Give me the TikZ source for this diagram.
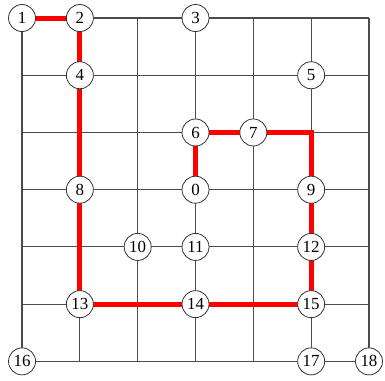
\documentclass[tikz,border=0pt]{standalone}
\usepackage{fontspec}
\setmainfont{Liberation Serif}
\usetikzlibrary{backgrounds}
\tikzset{
	vtx/.style={circle, draw=black!80, fill=white, line width=0.8bp, inner sep=0pt, minimum size=27bp, font=\fontsize{17}{20}\selectfont},
	gridline/.style={black!70, line width=1.1bp},
	route/.style={red, line width=5bp}
}
\begin{document}
\begin{tikzpicture}[x=57.8bp, y=-57.2bp, line join=miter]
			\useasboundingbox (-0.381,-0.315) rectangle (6.277,6.332);
			\foreach \n/\x/\y in {1/0/0, 2/1/0, 3/3/0, 4/1/1, 5/5/1, 6/3/2, 7/4/2, 8/1/3, 0/3/3, 9/5/3,
				10/2/4, 11/3/4, 12/5/4, 13/1/5, 14/3/5, 15/5/5, 16/0/6, 17/5/6, 18/6/6}
				\node[vtx] (v\n) at (\x,\y) {\n};
			\coordinate (turn) at (5,2);
			\begin{pgfonlayer}{background}
				\foreach \i in {0,...,6} {
					\draw[gridline] (\i,0) -- (\i,6);
					\draw[gridline] (0,\i) -- (6,\i);
				}
				% shortest route
				\draw[route] (v1.center) -- (v2.center) -- (v4.center) -- (v8.center) -- (v13.center) -- (v14.center)
					-- (v15.center) -- (v12.center) -- (v9.center) -- (turn) -- (v7.center) -- (v6.center) -- (v0.center);
			\end{pgfonlayer}
		\end{tikzpicture}
\end{document}
